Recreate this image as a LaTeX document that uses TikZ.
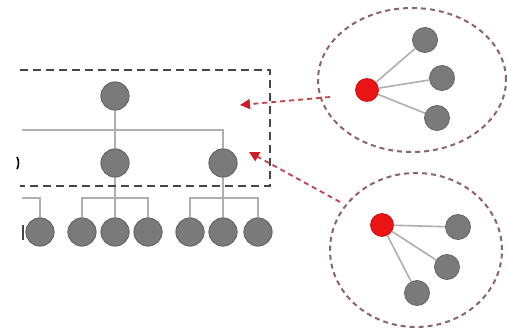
\documentclass[tikz,border=0pt]{standalone}
\usetikzlibrary{arrows.meta}
\definecolor{nodegray}{RGB}{122,122,122}
\definecolor{nodeedge}{RGB}{100,100,100}
\definecolor{linegray}{RGB}{175,175,175}
\definecolor{boxgray}{RGB}{70,70,70}
\definecolor{ellred}{RGB}{140,100,108}
\definecolor{arrred}{RGB}{195,65,75}
\definecolor{tipred}{RGB}{205,30,40}
\definecolor{hotred}{RGB}{235,20,20}
\begin{document}
\begin{tikzpicture}[x=1pt,y=-1pt,
  gnode/.style={circle,fill=nodegray,draw=nodeedge,line width=0.8pt,minimum size=28pt,inner sep=0pt},
  snode/.style={circle,fill=nodegray,draw=nodeedge,line width=0.8pt,minimum size=25pt,inner sep=0pt},
  rnode/.style={circle,fill=hotred,draw=red!80!black,line width=0.6pt,minimum size=23pt,inner sep=0pt},
  tree/.style={draw=linegray,line width=2.2pt},
  spoke/.style={draw=linegray,line width=1.6pt},
  box/.style={draw=boxgray,line width=2.4pt,dash pattern=on 8pt off 5pt},
  ring/.style={draw=ellred,line width=2pt,dash pattern=on 5pt off 4pt},
  link/.style={draw=arrred,line width=1.8pt,dash pattern=on 5pt off 4pt,-{Triangle[length=10pt,width=10pt,color=tipred,fill=tipred]}}]
\useasboundingbox (0,0) rectangle (507,329);
\fill[white] (0,0) rectangle (507,329);

% tree coordinates
\coordinate (hl) at (22,130);
\coordinate (hr) at (223,130);
\coordinate (g1) at (22,198);
\coordinate (g1r) at (40,198);
\coordinate (g2l) at (82,198);
\coordinate (g2r) at (148,198);
\coordinate (g3l) at (190,198);
\coordinate (g3r) at (258,198);

% tree nodes (positions)
\node[gnode] (t) at (115,96) {};
\node[gnode] (m1) at (115,163) {};
\node[gnode] (m2) at (223,163) {};
\node[gnode] (b1) at (40,232) {};
\node[gnode] (b2) at (82,232) {};
\node[gnode] (b3) at (115,232) {};
\node[gnode] (b4) at (148,232) {};
\node[gnode] (b5) at (190,232) {};
\node[gnode] (b6) at (223,232) {};
\node[gnode] (b7) at (258,232) {};

% tree connectors
\draw[tree] (t) -- (m1);
\draw[tree] (hl) -- (hr) -- (m2);
\draw[tree] (m1) -- (b3);
\draw[tree] (m2) -- (b6);
\draw[tree] (g1) -- (g1r) -- (b1);
\draw[tree] (b2) -- (g2l) -- (g2r) -- (b4);
\draw[tree] (b5) -- (g3l) -- (g3r) -- (b7);

% nodes on top of lines
\node[gnode] at (t) {};
\node[gnode] at (m1) {};
\node[gnode] at (m2) {};
\node[gnode] at (b1) {};
\node[gnode] at (b2) {};
\node[gnode] at (b3) {};
\node[gnode] at (b4) {};
\node[gnode] at (b5) {};
\node[gnode] at (b6) {};
\node[gnode] at (b7) {};

% dashed box
\draw[box] (20,70) -- (270,70) -- (270,186) -- (20,186);

% cut-off marks at the left edge
\draw[black,line width=1.6pt] (17,157) .. controls (19,160) and (19,166) .. (17,169);
\draw[boxgray,line width=2.5pt] (23,225) -- (23,240);

% top ellipse
\draw[ring] (412,80) ellipse [x radius=94pt, y radius=72pt];
\node[rnode] (r1) at (367,90) {};
\node[snode] (a1) at (425,40) {};
\node[snode] (a2) at (442,78) {};
\node[snode] (a3) at (437,118) {};
\draw[spoke] (r1) -- (a1);
\draw[spoke] (r1) -- (a2);
\draw[spoke] (r1) -- (a3);

% bottom ellipse
\draw[ring] (416,250) ellipse [x radius=86pt, y radius=77pt];
\node[rnode] (r2) at (382,225) {};
\node[snode] (c1) at (458,227) {};
\node[snode] (c2) at (447,267) {};
\node[snode] (c3) at (417,293) {};
\draw[spoke] (r2) -- (c1);
\draw[spoke] (r2) -- (c2);
\draw[spoke] (r2) -- (c3);

% arrows
\coordinate (s1) at (330,97);
\coordinate (e1) at (240,105);
\coordinate (s2) at (340,202);
\coordinate (e2) at (249,152);
\draw[link] (s1) -- (e1);
\draw[link] (s2) -- (e2);
\end{tikzpicture}
\end{document}
